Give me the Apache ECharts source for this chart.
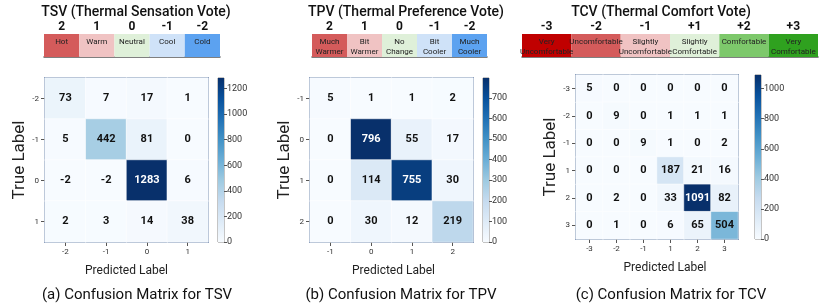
<!DOCTYPE html>
<html><head><meta charset="utf-8">
<script src="https://cdn.jsdelivr.net/npm/echarts@6/dist/echarts.min.js"></script>
<style>html,body{margin:0;padding:0;background:#fff}#c{width:830px;height:306px}</style>
</head><body><div id="c"></div>
<script>
// ---------- data ----------
const tsvLabels = ['-2', '-1', '0', '1'];
const tsvMatrix = [
  [73, 7, 17, 1],
  [5, 442, 81, 0],
  [-2, -2, 1283, 6],
  [2, 3, 14, 38]
];
const tsvBarTicks = [0, 200, 400, 600, 800, 1000, 1200];
const tsvScaleCodes = ['2', '1', '0', '-1', '-2'];
const tsvScaleNames = ['Hot', 'Warm', 'Neutral', 'Cool', 'Cold'];

const tpvLabels = ['-1', '0', '1', '2'];
const tpvMatrix = [
  [5, 1, 1, 2],
  [0, 796, 55, 17],
  [0, 114, 755, 30],
  [0, 30, 12, 219]
];
const tpvBarTicks = [0, 100, 200, 300, 400, 500, 600, 700];
const tpvScaleCodes = ['2', '1', '0', '-1', '-2'];
const tpvScaleNames = ['Much\nWarmer', 'Bit\nWarmer', 'No\nChange', 'Bit\nCooler', 'Much\nCooler'];

const tcvLabels = ['-3', '-2', '-1', '1', '2', '3'];
const tcvMatrix = [
  [5, 0, 0, 0, 0, 0],
  [0, 9, 0, 1, 1, 1],
  [0, 0, 9, 1, 0, 2],
  [0, 0, 0, 187, 21, 16],
  [0, 2, 0, 33, 1091, 82],
  [0, 1, 0, 6, 65, 504]
];
const tcvBarTicks = [0, 200, 400, 600, 800, 1000];
const tcvScaleCodes = ['-3', '-2', '-1', '+1', '+2', '+3'];
const tcvScaleNames = ['Very\nUncomfortable', 'Uncomfortable', 'Slightly\nUncomfortable', 'Slightly\nComfortable', 'Comfortable', 'Very\nComfortable'];

// ---------- styles ----------
const sensColors = ['#d45b5b', '#f0c3c3', '#dff0d9', '#cfe2f8', '#5ca2f0'];
const comfColors = ['#c00000', '#d45b5b', '#f0c3c3', '#dff0d9', '#7dc86b', '#2fa11f'];
const blues = ['#f7fbff', '#deebf7', '#c6dbef', '#9ecae1', '#6baed6', '#4292c6', '#2171b5', '#08519c', '#08306b'];
const FONT = 'Roboto';

const panels = [
  {title: 'TSV (Thermal Sensation Vote)', caption: '(a) Confusion Matrix for TSV', labels: tsvLabels, matrix: tsvMatrix,
   ticks: tsvBarTicks, codes: tsvScaleCodes, names: tsvScaleNames, colors: sensColors,
   grid: {left: 45, top: 78, width: 163, height: 164}, cbar: {left: 218, top: 78, width: 6, height: 164},
   strip: {left: 44, top: 34, width: 176, height: 23}, tx: 131, cx: 132, namePad: 0},
  {title: 'TPV (Thermal Preference Vote)', caption: '(b) Confusion Matrix for TPV', labels: tpvLabels, matrix: tpvMatrix,
   ticks: tpvBarTicks, codes: tpvScaleCodes, names: tpvScaleNames, colors: sensColors,
   grid: {left: 310, top: 78, width: 163, height: 164}, cbar: {left: 483, top: 78, width: 6, height: 164},
   strip: {left: 312, top: 34, width: 175, height: 23}, tx: 401, cx: 396, namePad: 4},
  {title: 'TCV (Thermal Comfort Vote)', caption: '(c) Confusion Matrix for TCV', labels: tcvLabels, matrix: tcvMatrix,
   ticks: tcvBarTicks, codes: tcvScaleCodes, names: tcvScaleNames, colors: comfColors,
   grid: {left: 576, top: 75, width: 162, height: 164}, cbar: {left: 755, top: 75, width: 6, height: 164},
   strip: {left: 522, top: 34, width: 296, height: 23}, tx: 656, cx: 666, namePad: 16}
];

const grid = [], xAxis = [], yAxis = [], series = [], visualMap = [], title = [];
panels.forEach((p, pi) => {
  const flat = p.matrix.flat();
  const vmax = Math.max(...flat), vmin = Math.min(...flat);
  const thr = (vmax + vmin) / 2;
  // matrix grid
  const g0 = grid.length;
  grid.push(Object.assign({show: true, borderColor: '#6d86ab', borderWidth: 2, containLabel: false}, p.grid));
  xAxis.push({type: 'category', gridIndex: g0, data: p.labels, name: 'Predicted Label', nameLocation: 'middle', nameGap: 23,
    nameTextStyle: {fontFamily: FONT, fontSize: 12, color: '#222', padding: [0, 0, 0, p.namePad]},
    axisLine: {show: false}, axisTick: {show: true, alignWithLabel: true, length: 4, lineStyle: {color: '#555'}},
    axisLabel: {fontFamily: FONT, fontSize: 8, color: '#333', margin: 6}, splitArea: {show: false}});
  yAxis.push({type: 'category', gridIndex: g0, data: p.labels, inverse: true, name: 'True Label', nameLocation: 'middle', nameGap: 11,
    nameTextStyle: {fontFamily: FONT, fontSize: 17, color: '#222'},
    axisLine: {show: false}, axisTick: {show: true, alignWithLabel: true, length: 4, lineStyle: {color: '#555'}},
    axisLabel: {fontFamily: FONT, fontSize: 8, color: '#333', margin: 6}, splitArea: {show: false}});
  const data = [];
  p.matrix.forEach((row, r) => row.forEach((v, c) => {
    data.push({value: [c, r, v], label: {color: v > thr ? '#ffffff' : '#111111'}});
  }));
  const hsIdx = series.length;
  series.push({type: 'heatmap', xAxisIndex: g0, yAxisIndex: g0, data: data,
    itemStyle: {borderColor: 'rgba(255,255,255,0.55)', borderWidth: 1},
    label: {show: true, fontFamily: FONT, fontSize: 11, fontWeight: 'bold', formatter: (d) => String(d.value[2])},
    emphasis: {disabled: true}});
  visualMap.push({type: 'continuous', show: false, seriesIndex: hsIdx, min: Math.min(0, vmin), max: vmax, inRange: {color: blues}});

  // colorbar grid
  const g1 = grid.length;
  grid.push(Object.assign({show: true, borderColor: '#8a8a8a', borderWidth: 1}, p.cbar));
  xAxis.push({type: 'category', gridIndex: g1, data: [''], show: false});
  yAxis.push({type: 'value', gridIndex: g1, min: 0, max: vmax, position: 'right',
    axisLine: {show: false}, splitLine: {show: false},
    axisTick: {show: true, inside: false, length: 3, lineStyle: {color: '#555'}, customValues: p.ticks},
    axisLabel: {fontFamily: FONT, fontSize: 9, color: '#333', margin: 3, customValues: p.ticks, formatter: (v) => String(v)}});
  series.push({type: 'bar', xAxisIndex: g1, yAxisIndex: g1, barWidth: '100%', silent: true,
    data: [vmax], itemStyle: {color: new echarts.graphic.LinearGradient(0, 1, 0, 0,
      blues.map((c, i) => ({offset: i / (blues.length - 1), color: c})))}});

  // scale strip grid
  const g2 = grid.length;
  grid.push(Object.assign({show: false}, p.strip));
  xAxis.push({type: 'category', gridIndex: g2, data: p.codes, position: 'top',
    axisLine: {show: true, lineStyle: {color: '#555', width: 1.5}}, axisTick: {show: false},
    axisLabel: {fontFamily: FONT, fontSize: 12, fontWeight: 'bold', color: '#111', margin: 7, verticalAlign: 'middle'}});
  yAxis.push({type: 'value', gridIndex: g2, min: 0, max: 1, show: false});
  series.push({type: 'bar', xAxisIndex: g2, yAxisIndex: g2, barWidth: '100%', silent: true,
    data: p.names.map((n, i) => ({value: 1, name: n, itemStyle: {color: p.colors[i]}})),
    label: {show: true, position: 'insideTop', distance: 3, fontFamily: FONT, fontSize: 8, lineHeight: 10, color: '#222',
      formatter: (d) => d.name}});

  title.push({text: p.title, left: p.tx, top: 0, textAlign: 'center',
    textStyle: {fontFamily: FONT, fontSize: 14, fontWeight: 500, color: '#111'}});
  title.push({text: p.caption, left: p.cx, top: 283, textAlign: 'center',
    textStyle: {fontFamily: FONT, fontSize: 15, fontWeight: 'normal', color: '#111'}});
});

const chart = echarts.init(document.getElementById('c'), null, {renderer: 'canvas'});
chart.setOption({animation: false, backgroundColor: '#fff', title, grid, xAxis, yAxis, visualMap, series});
</script></body></html>
